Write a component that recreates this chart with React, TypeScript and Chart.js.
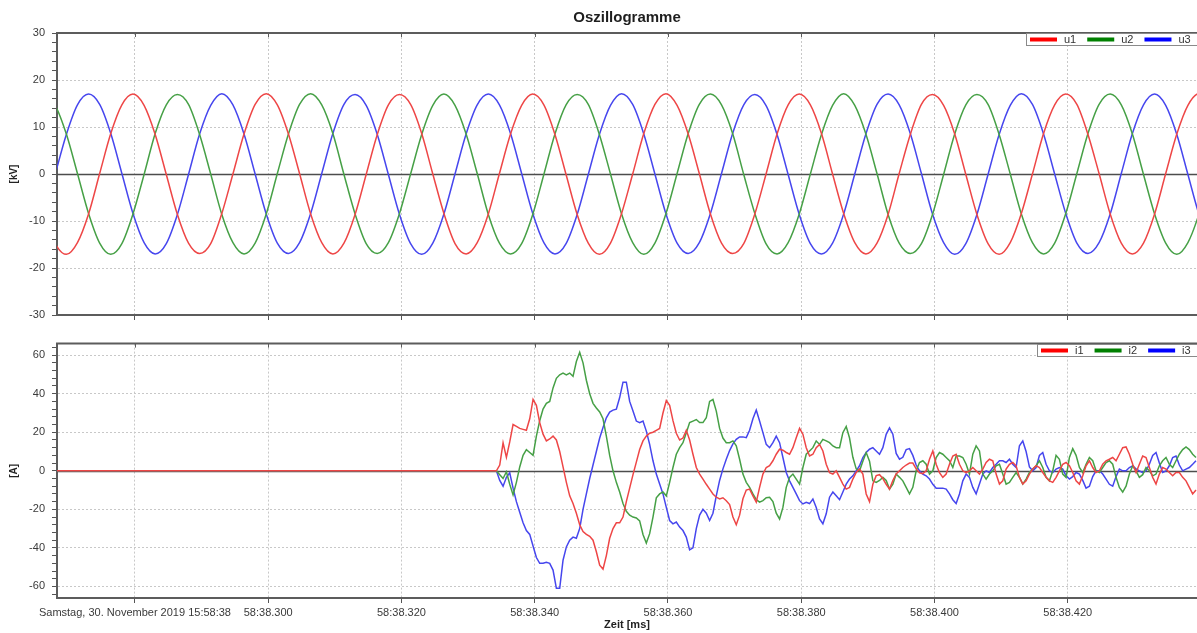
import React, { useEffect, useRef } from "react";
import { Chart, registerables } from "chart.js";

Chart.register(...registerables);

const FONT = "'Liberation Sans', Arial, sans-serif";

// ---------- texts ----------
const chartTitle = "Oszillogramme";
const xAxisTitle = "Zeit [ms]";
const uAxisTitle = "[kV]";
const iAxisTitle = "[A]";
const uLabels = ["u1", "u2", "u3"];
const iLabels = ["i1", "i2", "i3"];

// ---------- x axis (ms after 15:58:38.000) ----------
const xMin = 268.3;
const xMax = 439.4;
const xTickValues = [280, 300, 320, 340, 360, 380, 400, 420];
const xTickLabels = [
  "Samstag, 30. November 2019 15:58:38",
  "58:38.300",
  "58:38.320",
  "58:38.340",
  "58:38.360",
  "58:38.380",
  "58:38.400",
  "58:38.420",
];

// ---------- y axes ----------
const uMin = -30;
const uMax = 30;
const uMajorTicks = [-30, -20, -10, 0, 10, 20, 30];
const uMinorStep = 2;
const iMin = -66;
const iMax = 66;
const iMajorTicks = [-60, -40, -20, 0, 20, 40, 60];
const iMinorStep = 4;

// ---------- voltages [kV], sampled every 20/12 ms from uStart ----------
const uStart = 266.37;
const uStep = 20 / 12;
const u1 = [
  -8.4, -14.8, -17.1, -14.6, -8.5, 0.1, 8.6, 14.7, 17.0, 14.6, 8.4, -0.1,
  -8.6, -14.7, -16.9, -14.8, -8.4, 0.0, 8.5, 14.8, 17.1, 14.7, 8.5, 0.1,
  -8.5, -14.6, -17.0, -14.7, -8.6, -0.1, 8.4, 14.7, 16.9, 14.8, 8.6, 0.0,
  -8.4, -14.8, -17.0, -14.6, -8.5, 0.1, 8.5, 14.6, 17.0, 14.7, 8.4, -0.1,
  -8.6, -14.7, -17.1, -14.7, -8.4, 0.0, 8.6, 14.8, 17.1, 14.6, 8.5, 0.1,
  -8.5, -14.7, -16.9, -14.8, -8.5, -0.1, 8.5, 14.7, 17.0, 14.7, 8.6, 0.0,
  -8.4, -14.6, -17.0, -14.7, -8.6, 0.1, 8.4, 14.8, 16.9, 14.6, 8.5, -0.1,
  -8.6, -14.8, -17.1, -14.6, -8.4, 0.0, 8.6, 14.7, 17.0, 14.8, 8.4, 0.1,
  -8.5, -14.7, -17.0, -14.7, -8.5, 0.1, 8.5, 14.6, 17.1, 14.7, 8.5, 0.0,
];
const u2 = [
  17.0, 14.6, 8.5, 0.1, -8.4, -14.7, -17.1, -14.8, -8.5, -0.1, 8.6, 14.7,
  16.9, 14.8, 8.4, 0.0, -8.6, -14.6, -17.0, -14.7, -8.5, 0.1, 8.5, 14.8,
  17.1, 14.7, 8.6, -0.1, -8.5, -14.8, -16.9, -14.6, -8.4, 0.0, 8.4, 14.6,
  17.0, 14.6, 8.5, 0.1, -8.6, -14.7, -17.0, -14.8, -8.6, -0.1, 8.5, 14.7,
  16.9, 14.8, 8.4, 0.0, -8.5, -14.6, -17.1, -14.7, -8.4, 0.1, 8.6, 14.8,
  17.0, 14.7, 8.6, -0.1, -8.4, -14.8, -17.0, -14.6, -8.5, 0.0, 8.4, 14.6,
  17.1, 14.6, 8.5, 0.1, -8.6, -14.7, -16.9, -14.8, -8.6, -0.1, 8.5, 14.7,
  16.9, 14.8, 8.4, 0.0, -8.5, -14.6, -17.0, -14.7, -8.4, 0.1, 8.6, 14.8,
  17.0, 14.7, 8.5, -0.1, -8.5, -14.7, -17.1, -14.6, -8.5, 0.0, 8.5, 14.7,
];
const u3 = [
  -8.5, 0.0, 8.4, 14.7, 17.0, 14.8, 8.6, 0.1, -8.4, -14.6, -17.0, -14.8,
  -8.6, -0.1, 8.5, 14.6, 17.1, 14.7, 8.5, 0.0, -8.5, -14.7, -16.9, -14.6,
  -8.4, 0.1, 8.6, 14.8, 16.9, 14.6, 8.4, -0.1, -8.6, -14.8, -17.1, -14.7,
  -8.5, 0.0, 8.5, 14.7, 17.0, 14.7, 8.6, 0.1, -8.4, -14.6, -17.0, -14.8,
  -8.6, -0.1, 8.4, 14.6, 17.1, 14.8, 8.5, 0.0, -8.5, -14.7, -16.9, -14.6,
  -8.4, 0.1, 8.6, 14.7, 16.9, 14.6, 8.4, -0.1, -8.6, -14.8, -17.0, -14.7,
  -8.5, 0.0, 8.5, 14.8, 17.0, 14.7, 8.6, 0.1, -8.5, -14.6, -17.1, -14.8,
  -8.6, -0.1, 8.4, 14.6, 17.1, 14.8, 8.5, 0.0, -8.4, -14.7, -16.9, -14.6,
  -8.5, 0.1, 8.6, 14.7, 17.0, 14.6, 8.4, -0.1, -8.6, -14.8, -17.0, -14.7,
];

// ---------- currents [A] ----------
// pre-fault: zero current from the record start, then samples every 0.5 ms from iStart
const iRecordStart = 266;
const iStart = 333.25;
const iStep = 0.5;
const i1 = [
  0, 0, 0, 3, 14.5, 7, 15, 24, 23, 22,
  21.5, 21, 27, 37, 34, 25, 19, 15.5, 16.5, 18,
  16, 10, 2, -6, -13, -17, -22, -28, -31.5, -33,
  -34, -36, -42, -49, -51, -44, -35, -30, -27, -27,
  -24, -16, -9, -2, 4.5, 11, 15.5, 18, 19.5, 20,
  21, 22, 30, 36.5,
  34, 26, 19.5, 16, 17, 21, 16, 8.6, 1.7, -1.7,
  -4.3, -7, -9.5, -12, -13.7, -14.6, -14, -15.5, -17.5, -24,
  -28, -23, -14.5, -10, -9.5, -13, -16.3, -8.6, -1.7, 1.7,
  2.6, 5.2, 8.6, 11.2, 10.7, 9.5, 8.6, 12, 17.2, 22,
  19, 12, 7.7, 8.6, 12, 13.7, 10.3, 3.4, -1, -1.7, 0,
  -3.4, -6.9, -9.5, -8.6, -4.3, -0.9, 0.9, -1.7, -12, -16,
  -7, -2.5, -2, -4, -7, -9.5, -5, -1.7, 0, 1.7,
  3, 4, 4, 1, -1, -1.5, 0, 6, 10.3, 3.4,
  -1, -3.4, -1.7, 3.4, 7.7, 8.6, 3.4, 0, -0.9, 0,
  1.7, 0, -1.7, 0.9, 4.3, 6, 5.2, -1.7, -6.9, -5.2, 0.9,
  3.4, 4.3, 2.6, -3.4, -6.9, -5.2, -1.7, 0.9, 2.6, 1.7,
  -0.9, -3.4, -5.2, -6, -3.4, 0, 3.4, 4.3, 2.6, -0.9,
  -5.2, -6.9, -2.6, 2.6, 5.2, 1.7, -0.9, 0, 3.4, 5.2,
  6, 6.9, 5.2, 8.6, 12, 12.4, 8.6, 3.4, -0.9, 3.4,
  7.7, 6.9, 1.7, -3.4, -6.9, -1.7, 1.7, 0.9, -0.9, -2.6,
  -0.9, -0.9, -3.4, -5.2, -8.6, -12, -10,
];
const i2 = [
  0, 0, 0, -2, -4, -0.5, -7, -12.5, -6, 2,
  8, 11, 9.5, 8, 18, 26, 32, 35, 36, 43,
  48, 49.8, 50.7, 49.8, 50.7, 49, 56.7, 61.5, 56, 47,
  40, 35, 32.6, 30.5, 27, 18, 8, 0, -6, -11,
  -17, -21, -23, -24, -24.5, -26, -33, -37.5, -32.6, -24,
  -14, -12, -11, -13,
  -6, 1.7, 8.6, 12, 14.6, 19.8, 25, 25.8, 26.6, 25,
  25, 27.5, 36, 37, 31, 22, 17, 14.6, 14.6, 15.5,
  13, 6, -1.7, -6, -8.6, -12, -15, -16.3, -15.5, -14,
  -13.7, -16, -22, -25, -19, -8.6, -3.4, -1.7, -4.3, -6.9,
  1.7, 8.6, 10.3, 12, 15.5, 13.7, 16.3, 15.5, 14.6, 12.9, 12,
  12, 19.8, 23, 17, 7, 1, 0, 5, 9.5, 5,
  -5.2, -6, -5, -3.4, -5, -9.5, -6.9, -1.7, -3.4, -5.2,
  -8.6, -12, -8.6, 0, 4.3, 5.2, 3.4, -1.7, 0, 6.9,
  9.5, 8.6, 6.9, 5.2, 1.7, 7.7, 7.7, 6.9, 3.4, -1.7,
  8.6, 12.9, 10.3, -1.7, -4.3, -1.7, 0, 2.6, 3.4, -1.7, -6.9,
  -6, -3.4, -0.9, -3.4, -6.9, -4.3, -0.9, 0.9, 2.6, 5.2,
  1.7, -3.4, -5.2, 0, 8, 6, -1.7, -3.4, 6.9, 11.5,
  8, 1.7, -0.9, 3.4, 6.9, 5.2, 0, -0.9, 1.7, 4.3,
  5.2, 3.4, -3.4, -8.6, -11, -8, -1.7, 2.6, 0, -3.4,
  -2, 1.7, 0, -2.6, -1.7, 2.6, 5.2, 6.9, 3.4, 1.7,
  5.2, 8.6, 11, 12.4, 11, 8.6, 6.9,
];
const i3 = [
  0, 0, 0, -5, -8, -3.4, -1, -9, -16, -21.5,
  -27, -31, -33, -39, -45, -48, -48, -47.5, -48, -51.5,
  -61, -61, -46.4, -39.5, -36, -34.4, -35, -30, -20, -12,
  -4, 3, 10, 17, 22.5, 27.5, 30.5, 31.5, 32, 38,
  46, 46, 36, 31, 25.8, 25, 25.8, 20.6, 13.7, 5.2,
  -1.7, -6.9, -12, -19,
  -25.8, -27.5, -26.6, -29.2, -31, -34.4, -41, -40, -30, -23,
  -20, -22, -25.8, -22, -13, -5, 1, 6, 10.5, 14,
  16.3, 17.6, 17.6, 17.2, 21, 27, 31.5, 25.8, 19.8, 13.7,
  12, 14.6, 18, 14.6, 6.9, -0.9, -5.2, -8.6, -12, -15.5,
  -17.2, -16.3, -17, -14.6, -19, -25, -27.5, -22.3, -13.7, -11, -13,
  -15, -11, -6.9, -4.3, -2.6, 0, 2.6, 6.9, 9.5, 11.2,
  12, 10.3, 8.6, 12, 18.9, 22.3, 19, 9, 6, 7,
  11, 11.5, 8, 3, 0, -1.7, -2.6, -4.3, -7, -9,
  -9, -9, -9.5, -12, -15, -17, -12, -5.2, -1.7, -3.4,
  -8.6, -12, -6.9, -1.7, 0, -0.9, 1.7, 3.4, 5.2, 5.2, 4.3,
  6, 3.4, 1.7, 13, 15.5, 10, 2, 0, 1.7, 8,
  9.5, 3.4, 0, -0.9, 0.9, 1.7, 0.9, -2.6, -4.3, -3,
  -0.9, -1.7, -5, -9, -8, -3, 0, 0, -1.7, -4.3,
  -7, -8, -3, 0.9, 0, 0, 1.7, 2.6, 1, 0,
  -0.9, 0, 3.4, 8, 9.5, 4, -0.9, 0, 2.6, 6.9,
  7.7, 3, 0, 0.9, 1.7, 3.4, 5.2,
];

// ---------- colours ----------
const lineColors = ["#ee4646", "#46a046", "#4646ee"];
const legendColors = ["#ff0000", "#008000", "#0000ff"];

type Pt = { x: number; y: number };
const sampled = (start: number, step: number, values: number[]): Pt[] =>
  values.map((v, k) => ({ x: start + k * step, y: v }));
const currentSeries = (values: number[]): Pt[] => [
  { x: iRecordStart, y: 0 },
  ...sampled(iStart, iStep, values),
];

// ---------- plugins ----------
const framePlugin = {
  id: "frame",
  beforeDatasetsDraw(chart: any) {
    const { ctx, chartArea: a } = chart;
    const y0 = Math.round(chart.scales.y.getPixelForValue(0)) + 0.5;
    ctx.save();
    ctx.strokeStyle = "#4d4d4d";
    ctx.lineWidth = 1.5;
    ctx.beginPath();
    ctx.moveTo(a.left, y0);
    ctx.lineTo(a.right, y0);
    ctx.stroke();
    ctx.restore();
  },
  afterDatasetsDraw(chart: any) {
    const { ctx, chartArea: a } = chart;
    const xs = chart.scales.x;
    ctx.save();
    ctx.strokeStyle = "#5c5c5c";
    ctx.lineWidth = 2;
    ctx.beginPath();
    ctx.moveTo(a.left - 1, a.top);
    ctx.lineTo(a.right, a.top);
    ctx.stroke();
    ctx.lineWidth = 1;
    xs.ticks.forEach((t: any) => {
      const px = Math.round(xs.getPixelForValue(t.value)) + 0.5;
      ctx.beginPath();
      ctx.moveTo(px, a.top);
      ctx.lineTo(px, a.top + 4);
      ctx.stroke();
    });
    ctx.restore();
  },
};

const cornerLegend = {
  id: "cornerLegend",
  afterDraw(chart: any) {
    const { ctx, chartArea: a } = chart;
    const ds = chart.data.datasets;
    ctx.save();
    ctx.font = `11px ${FONT}`;
    const sw = 27;
    const gapText = 7;
    const gapNext = 11;
    const padL = 4;
    const padR = 6;
    const widths = ds.map((d: any) => ctx.measureText(d.label).width);
    const inner =
      ds.length * (sw + gapText) +
      widths.reduce((s: number, w: number) => s + w, 0) +
      (ds.length - 1) * gapNext;
    const boxLeft = Math.round(a.right - padR - inner - padL);
    const top = Math.round(a.top);
    const h = 12;
    ctx.fillStyle = "#ffffff";
    ctx.fillRect(boxLeft, top, a.right - boxLeft + 5, h);
    ctx.strokeStyle = "#8a8a8a";
    ctx.lineWidth = 1;
    ctx.strokeRect(boxLeft + 0.5, top + 0.5, a.right - boxLeft + 5, h);
    let x = boxLeft + padL;
    ds.forEach((d: any, i: number) => {
      ctx.fillStyle = d.legendColor;
      ctx.fillRect(x, top + h / 2 - 1.5, sw, 4);
      x += sw + gapText;
      ctx.fillStyle = "#333333";
      ctx.textBaseline = "middle";
      ctx.textAlign = "left";
      ctx.fillText(d.label, x, top + h / 2 + 1);
      x += widths[i] + gapNext;
    });
    ctx.restore();
  },
};

// ---------- option builders ----------
const tickFont = { family: FONT, size: 11 };

function xScale(showLabels: boolean, height: number) {
  return {
    type: "linear",
    position: "bottom",
    min: xMin,
    max: xMax,
    afterBuildTicks: (s: any) => {
      s.ticks = xTickValues.map((v) => ({ value: v }));
    },
    afterFit: (s: any) => {
      s.height = height;
    },
    ticks: {
      display: showLabels,
      autoSkip: false,
      maxRotation: 0,
      minRotation: 0,
      padding: 3,
      color: "#3a3a3a",
      font: tickFont,
      callback: (_v: any, i: number) => xTickLabels[i],
    },
    grid: {
      color: "#c8c8c8",
      lineWidth: 1,
      drawTicks: true,
      tickLength: 5,
      tickColor: "#555555",
      tickBorderDash: [],
    },
    border: { display: true, color: "#5c5c5c", width: 2, dash: [2, 2] },
    title: showLabels
      ? {
          display: true,
          text: xAxisTitle,
          color: "#222222",
          font: { family: FONT, size: 11, weight: "bold" },
          padding: { top: 0, bottom: 1.4 },
        }
      : { display: false },
  };
}

function yScale(min: number, max: number, majors: number[], minorStep: number, title: string) {
  return {
    type: "linear",
    min,
    max,
    afterBuildTicks: (s: any) => {
      const t: any[] = [];
      const first = Math.ceil(min / minorStep) * minorStep;
      for (let v = first; v <= max; v += minorStep) t.push({ value: v });
      s.ticks = t;
    },
    afterFit: (s: any) => {
      s.width = 57;
    },
    ticks: {
      autoSkip: false,
      padding: 7,
      color: "#3a3a3a",
      font: tickFont,
      callback: (v: any) => (majors.includes(Number(v)) ? String(v) : ""),
    },
    grid: {
      color: (c: any) => {
        const v = c.tick ? c.tick.value : NaN;
        return v !== 0 && majors.includes(v) ? "#c8c8c8" : "rgba(0,0,0,0)";
      },
      lineWidth: 1,
      drawTicks: true,
      tickLength: 5,
      tickColor: "#555555",
      tickBorderDash: [],
    },
    border: { display: true, color: "#5c5c5c", width: 2, dash: [2, 2] },
    title: {
      display: true,
      text: title,
      color: "#222222",
      font: { family: FONT, size: 10, weight: "bold" },
      padding: { top: 8, bottom: 0 },
    },
  };
}

function lineDataset(label: string, data: Pt[], i: number, smooth: boolean) {
  return {
    label,
    data,
    legendColor: legendColors[i],
    borderColor: lineColors[i],
    backgroundColor: lineColors[i],
    borderWidth: 1.5,
    pointRadius: 0,
    fill: false,
    tension: 0,
    cubicInterpolationMode: smooth ? "monotone" : "default",
  };
}

export default function App() {
  const topRef = useRef<HTMLCanvasElement>(null);
  const botRef = useRef<HTMLCanvasElement>(null);

  useEffect(() => {
    document.body.style.margin = "0";
    const top = new Chart(topRef.current as HTMLCanvasElement, {
      type: "line",
      data: {
        datasets: [
          lineDataset(uLabels[0], sampled(uStart, uStep, u1), 0, true),
          lineDataset(uLabels[1], sampled(uStart, uStep, u2), 1, true),
          lineDataset(uLabels[2], sampled(uStart, uStep, u3), 2, true),
        ] as any,
      },
      options: {
        responsive: false,
        animation: false,
        events: [],
        layout: { padding: 0 },
        plugins: {
          legend: { display: false },
          tooltip: { enabled: false },
          title: {
            display: true,
            text: chartTitle,
            fullSize: false,
            color: "#1e1e1e",
            font: { family: FONT, size: 15, weight: "bold" },
            padding: { top: 9, bottom: 6 },
          },
        },
        scales: {
          x: xScale(false, 15),
          y: yScale(uMin, uMax, uMajorTicks, uMinorStep, uAxisTitle),
        },
      } as any,
      plugins: [framePlugin, cornerLegend],
    });
    const bottom = new Chart(botRef.current as HTMLCanvasElement, {
      type: "line",
      data: {
        datasets: [
          lineDataset(iLabels[0], currentSeries(i1), 0, false),
          lineDataset(iLabels[1], currentSeries(i2), 1, false),
          lineDataset(iLabels[2], currentSeries(i3), 2, false),
        ] as any,
      },
      options: {
        responsive: false,
        animation: false,
        events: [],
        layout: { padding: { top: 11, left: 0, right: 0, bottom: 0 } },
        plugins: {
          legend: { display: false },
          tooltip: { enabled: false },
          title: { display: false },
        },
        scales: {
          x: xScale(true, 35),
          y: yScale(iMin, iMax, iMajorTicks, iMinorStep, iAxisTitle),
        },
      } as any,
      plugins: [framePlugin, cornerLegend],
    });
    return () => {
      top.destroy();
      bottom.destroy();
    };
  }, []);

  return (
    <div
      style={{
        position: "relative",
        width: 1197,
        height: 633,
        overflow: "hidden",
        background: "#ffffff",
      }}
    >
      <canvas ref={topRef} width={1197} height={330} style={{ display: "block" }} />
      <canvas ref={botRef} width={1197} height={303} style={{ display: "block" }} />
    </div>
  );
}
